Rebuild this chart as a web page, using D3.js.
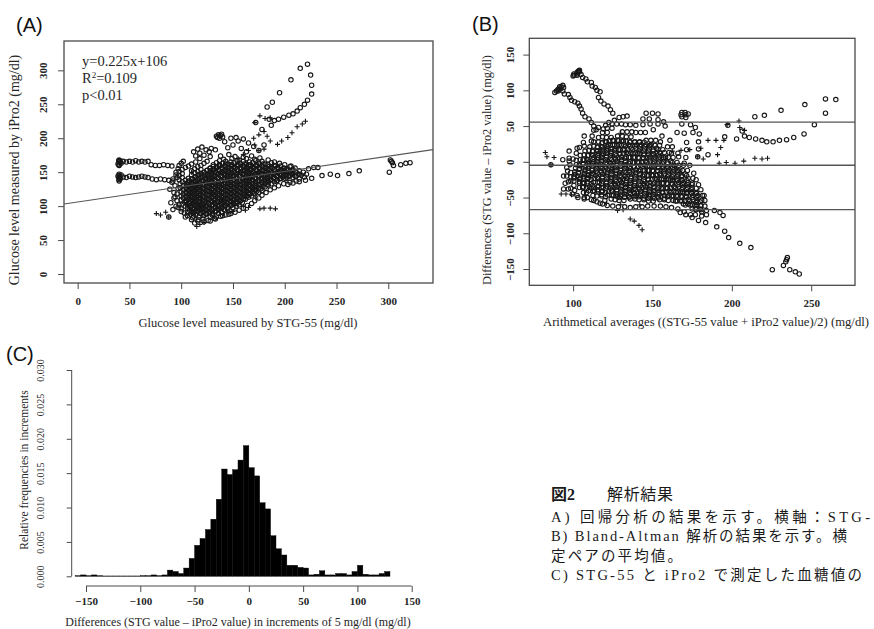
<!DOCTYPE html>
<html>
<head>
<meta charset="utf-8">
<script src="https://cdn.jsdelivr.net/npm/d3@7"></script>
<style>
  body { margin: 0; background: #fff; }
  svg { display: block; }
</style>
</head>
<body>
<svg id="fig" width="874" height="629"></svg>
<script>
// ---- data ----
// panel A pairs "STG,iPro2" ; open circles
var circleA =
  // STG=40 column and the two trails going right
  "40,168 40,166 41,164 39,162 40,160 40,165 41,167 42,163 40,167 40,161 " +
  "40,147 40,145 41,143 40,141 40,139 40,137 39,144 41,140 40,142 42,146 " +
  "44,166 47,165 50,166 53,165 56,167 59,165 62,166 65,165 68,166 71,161 75,160 79,160 83,161 87,160 91,159 " +
  "44,143 47,142 50,144 53,143 56,142 59,143 62,144 65,143 68,142 72,140 76,139 80,140 84,139 88,138 92,137 " +
  // rising trail
  "222,309 215,303 225,293 206,286 226,278 226,265 195,267 222,256 219,250 215,245 212,240 208,236 204,234 199,231 194,228 " +
  "188,253 183,246 172,223 178,213 187,219 190,226 185,228 " +
  "134,203 136,205 138,204 140,202 135,201 137,200 139,206 " +
  "116,184 120,187 124,183 129,185 112,180 118,178 127,180 133,183 150,190 155,196 160,199 165,193 170,188 175,182 " +
  "180,190 158,185 163,180 145,186 142,195 148,200 153,201 " +
  // right arm and far right group
  "232,157 236,145 244,147 251,145 262,148 272,152 203,132 208,134 214,136 220,138 226,141 223,155 228,157 " +
  "301,150 304,164 305,160 312,161 317,163 321,164 302,168 303,166 " +
  "88,84 92,95 95,100 90,105 93,112 96,118 89,125 94,130 91,135 96,142 98,160 102,166 95,150 " +
  // ragged edge of the cloud
  "93,120 97,126 92,140 95,146 97,155 100,163 114,174 122,175 128,173 138,174 146,176 152,173 160,172 168,174 176,171 " +
  "184,168 190,165 195,163 200,161 206,159 210,156 214,152 218,150 221,147 219,143 214,140 211,137 205,135 199,133 " +
  "194,130 190,127 186,124 182,120 178,116 175,112 171,108 168,104 164,101 160,97 156,94 152,91 148,89 143,87 138,85 " +
  "133,81 128,78 122,77 117,80 111,83 106,86 103,90 100,96 98,102 96,108 94,114 " +
  // dense core
  "118,170 141,169 149,170 156,168 163,170 171,169 " +
  "114,165 125,166 137,167 143,166 148,165 154,167 160,166 166,165 172,167 178,166 " +
  "110,162 122,163 134,164 140,163 145,162 151,164 157,163 163,162 169,164 175,163 181,162 187,164 " +
  "107,159 119,160 131,161 137,160 142,159 148,161 154,160 160,159 166,161 172,160 178,159 184,161 190,160 196,159 " +
  "104,157 116,158 128,156 134,158 139,157 145,156 151,158 157,157 163,156 169,158 175,157 181,156 187,158 193,157 199,156 205,158 " +
  "101,154 113,155 119,154 125,153 131,155 136,154 142,153 148,155 154,154 160,153 166,155 172,154 178,153 184,155 190,154 196,153 202,155 208,154 " +
  "98,151 110,152 116,151 122,150 128,152 133,151 139,150 145,152 151,151 157,150 163,152 169,151 175,150 181,152 187,151 193,150 199,152 205,151 211,150 " +
  "101,148 113,149 119,148 125,147 130,149 136,148 142,147 148,149 154,148 160,147 166,149 172,148 178,147 184,149 190,148 196,147 202,149 208,148 214,147 " +
  "98,145 110,146 116,145 122,144 127,146 133,145 139,144 145,146 151,145 157,144 163,146 169,145 175,144 181,146 187,145 193,144 199,146 205,145 211,144 216,146 " +
  "101,142 107,141 113,143 119,142 124,141 130,143 136,142 142,141 148,143 154,142 160,141 166,143 172,142 178,141 184,143 190,142 196,141 202,143 208,142 " +
  "98,139 104,138 110,140 116,139 121,138 127,140 133,139 139,138 145,140 151,139 157,138 163,140 169,139 175,138 181,140 187,139 193,138 199,140 " +
  "101,136 107,135 113,137 118,136 124,135 130,137 136,136 142,135 148,137 154,136 160,135 166,137 172,136 178,135 184,137 190,136 " +
  "99,133 105,132 110,134 115,133 121,132 127,134 133,133 139,132 145,134 151,133 157,132 163,134 169,133 175,132 181,134 187,133 " +
  "102,130 108,129 113,131 118,130 124,129 130,131 136,130 142,129 148,131 154,130 160,129 166,131 172,130 178,129 184,131 " +
  "99,127 105,126 110,128 115,127 121,126 127,128 133,127 139,126 145,128 151,127 157,126 163,128 169,127 175,126 181,128 " +
  "102,124 108,123 113,125 118,124 124,123 130,125 136,124 142,123 148,125 154,124 160,123 166,125 172,124 178,123 " +
  "100,121 105,120 110,122 115,121 121,120 127,122 133,121 139,120 145,122 151,121 157,120 163,122 169,121 175,120 " +
  "102,118 108,117 113,119 118,118 124,117 130,119 136,118 142,117 148,119 154,118 160,117 166,119 171,118 " +
  "100,115 105,114 110,116 115,115 121,114 127,116 133,115 139,114 145,116 151,115 157,114 163,116 168,115 " +
  "102,112 108,111 113,113 118,112 124,111 130,113 136,112 142,111 148,113 154,112 160,111 165,113 " +
  "100,109 105,108 110,110 115,109 121,108 127,110 133,109 139,108 145,110 151,109 157,108 162,110 " +
  "103,106 108,105 113,107 118,106 124,105 130,107 136,106 142,105 148,107 154,106 159,105 " +
  "101,103 106,102 111,104 116,103 121,102 127,104 133,103 139,102 145,104 151,103 156,102 " +
  "104,100 109,99 114,101 119,100 124,99 130,101 136,100 142,99 148,101 153,100 " +
  "106,97 111,96 116,98 121,97 127,96 133,98 139,97 145,96 150,98 " +
  "108,94 113,93 118,95 124,94 130,93 136,95 142,94 147,93 " +
  "106,91 111,90 116,92 121,91 127,90 133,92 139,91 " +
  "109,88 114,87 119,89 124,88 130,87 136,89 " +
  "112,85 117,84 122,86 128,85 134,84 " +
  "110,80 116,78 121,81 126,79 132,82 140,86 146,88 113,75 104,84 100,92 97,98 " +
  // the darkest part, between the rows above
  "137,161.5 143,162 149,161 155,161.5 161,162 167,161 173,161.5 179,162 " +
  "131,158.5 137,159 143,158 149,158.5 155,159 161,158 167,158.5 173,159 179,158 185,158.5 191,159 " +
  "128,155.5 134,156 140,155 146,155.5 152,156 158,155 164,155.5 170,156 176,155 182,155.5 188,156 194,155 200,155.5 " +
  "125,152.5 131,153 137,152 143,152.5 149,153 155,152 161,152.5 167,153 173,152 179,152.5 185,153 191,152 197,152.5 203,153 208,152 " +
  "122,149.5 128,150 134,149 140,149.5 146,150 152,149 158,149.5 164,150 170,149 176,149.5 182,150 188,149 194,149.5 200,150 206,149 211,149.5 " +
  "117,146.5 123,147 129,146 135,146.5 141,147 147,146 153,146.5 159,147 165,146 171,146.5 177,147 183,146 189,146.5 195,147 201,146 207,146.5 213,147 " +
  "114,143.5 120,144 126,143 132,143.5 138,144 144,143 150,143.5 156,144 162,143 168,143.5 174,144 180,143 186,143.5 192,144 198,143 204,143.5 210,144 " +
  "111,140.5 117,141 123,140 129,140.5 135,141 141,140 147,140.5 153,141 159,140 165,140.5 171,141 177,140 183,140.5 189,141 195,140 201,140.5 " +
  "108,137.5 114,138 120,137 126,137.5 132,138 138,137 144,137.5 150,138 156,137 162,137.5 168,138 174,137 180,137.5 186,138 192,137 " +
  "106,134.5 112,135 118,134 124,134.5 130,135 136,134 142,134.5 148,135 154,134 160,134.5 166,135 172,134 178,134.5 184,135 " +
  "105,131.5 111,132 117,131 123,131.5 129,132 135,131 141,131.5 147,132 153,131 159,131.5 165,132 171,131 177,131.5 183,132 " +
  "107,128.5 113,129 119,128 125,128.5 131,129 137,128 143,128.5 149,129 155,128 161,128.5 167,129 173,128 179,128.5 " +
  "105,125.5 111,126 117,125 123,125.5 129,126 135,125 141,125.5 147,126 153,125 159,125.5 165,126 171,125 177,125.5 " +
  "107,122.5 113,123 119,122 125,122.5 131,123 137,122 143,122.5 149,123 155,122 161,122.5 167,123 173,122 " +
  "105,119.5 111,120 117,119 123,119.5 129,120 135,119 141,119.5 147,120 153,119 159,119.5 165,120 170,119 " +
  "107,116.5 113,117 119,116 125,116.5 131,117 137,116 143,116.5 149,117 155,116 161,116.5 166,117 " +
  "105,113.5 111,114 117,113 123,113.5 129,114 135,113 141,113.5 147,114 153,113 159,113.5 163,114 " +
  "107,110.5 113,111 119,110 125,110.5 131,111 137,110 143,110.5 149,111 155,110 160,110.5 " +
  "105,107.5 111,108 117,107 123,107.5 129,108 135,107 141,107.5 147,108 153,107 157,107.5 " +
  "108,104.5 114,105 120,104 126,104.5 132,105 138,104 144,104.5 150,105 154,104 " +
  "107,101.5 113,102 119,101 125,101.5 131,102 137,101 143,101.5 149,102 " +
  "109,98.5 115,99 121,98 127,98.5 133,99 139,98 145,98.5 " +
  "111,95.5 117,96 123,95 129,95.5 135,96 141,95 " +
  "110,92.5 116,93 122,92 128,92.5 134,93 " +
  "112,89.5 118,90 124,89 130,89.5";

// panel A pairs "STG,iPro2" ; plus signs
var plusA =
  "76,89 80,87 88,84 85,91 115,70 118,73 122,76 " +
  "171,223 176,233 181,229 186,230 193,191 197,196 203,201 207,208 212,217 217,221 220,225 " +
  "183,203 186,196 180,184 175,182 170,200 175,205 180,210 " +
  "176,96 180,97 186,97 191,96 162,94 172,112 160,100 165,98 150,92 " +
  "170,125 168,140 175,150 155,170 160,176 165,182 171,190 120,100 130,120 140,110 110,150";

var regCoef = [0.225, 106];          // slope, intercept
var baLines = [55.5, -4.8, -67.0];   // upper limit, mean, lower limit

var histLeft = [-160, -155, -150, -145, -140, -135, -130, -125, -120, -115, -110, -105,
  -100, -95, -90, -85, -80, -75, -70, -65, -60, -55, -50, -45, -40, -35, -30, -25,
  -20, -15, -10, -5, 0, 5, 10, 15, 20, 25, 30, 35, 40, 45, 50, 55, 60, 65, 70, 75,
  80, 85, 90, 95, 100, 105, 110, 115, 120, 125];
var histFreq = [0.0001, 0.0002, 0.0001, 0.0002, 0.0001, 0.00005, 0.00005, 0.00005, 0.00005, 0.00005, 0.00005, 0.00005,
  0.0001, 0.0001, 0.0002, 0.0001, 0.0002, 0.0009, 0.0007, 0.0004, 0.0012, 0.0026, 0.0045, 0.0055, 0.0068, 0.0083, 0.0112, 0.0156,
  0.0148, 0.0155, 0.0169, 0.0190, 0.0158, 0.0146, 0.0107, 0.0098, 0.0059, 0.0040, 0.0031, 0.0016, 0.0016, 0.0013, 0.0012, 0.0002,
  0.0003, 0.0008, 0.0002, 0.0002, 0.0004, 0.0004, 0.0002, 0.0007, 0.0016, 0.0003, 0.0002, 0.0002, 0.0004, 0.0007];
var histWidth = 5;

var ticksA = [0, 50, 100, 150, 200, 250, 300];
var ticksBx = [100, 150, 200, 250];
var ticksBy = [-150, -100, -50, 0, 50, 100, 150];
var ticksCx = [-150, -100, -50, 0, 50, 100, 150];
var ticksCy = [0, 0.005, 0.010, 0.015, 0.020, 0.025, 0.030];

var annotA = ["y=0.225x+106", "R", "=0.109", "p<0.01"];

// caption, as far as it shows before the right edge of the page
var captionTitle = ["図2", "解析結果"];
var captionLines = [
  "A) 回帰分析の結果を示す。横軸：STG-",
  "B) Bland-Altman 解析の結果を示す。横",
  "定ペアの平均値。",
  "C) STG-55 と iPro2 で測定した血糖値の"
];
var captionFit = [319, 296, 131, 311];   // px each line spans in the figure

// ---- styles ----
var serif = "'Liberation Serif', 'DejaVu Serif', serif";
var sans = "'Liberation Sans', Arial, sans-serif";
var inkColor = "#262626";
var boxColor = "#4a4a4a";
var pointColor = "#161616";

var svg = d3.select("#fig");
svg.append("rect").attr("width", 874).attr("height", 629).attr("fill", "#fff");

var defs = svg.append("defs");
defs.append("filter").attr("id", "soft")
  .append("feGaussianBlur").attr("stdDeviation", 0.25);
defs.append("clipPath").attr("id", "clipA")
  .append("rect").attr("x", 64).attr("y", 41).attr("width", 369).attr("height", 242);
defs.append("clipPath").attr("id", "clipB")
  .append("rect").attr("x", 529.3).attr("y", 38.3).attr("width", 325.7).attr("height", 247);

function parsePairs(s) {
  return s.trim().split(/\s+/).map(function (p) { return p.split(",").map(Number); });
}
var ptsA = parsePairs(circleA);
var plsA = parsePairs(plusA);

var plusPath = "M-2.5,0H2.5M0,-2.5V2.5";

function styleAxis(g, size, weight) {
  g.select(".domain").remove();
  g.selectAll(".tick line").attr("stroke", boxColor).attr("stroke-width", 1);
  g.selectAll(".tick text")
    .attr("font-family", serif)
    .attr("font-size", size)
    .attr("font-weight", weight)
    .attr("fill", inkColor);
}
function rotateLeft(g, d) {
  g.selectAll(".tick text")
    .attr("transform", "rotate(-90)")
    .attr("x", 0).attr("y", -d).attr("dy", 0)
    .attr("text-anchor", "middle");
}

// ============ panel A ============
var xA = d3.scaleLinear().domain([-13.2, 343.2]).range([64, 433]);
var yA = d3.scaleLinear().domain([-13.2, 343.2]).range([283, 41]);

var gA = svg.append("g");
var ptsGA = gA.append("g").attr("clip-path", "url(#clipA)").attr("filter", "url(#soft)");
ptsGA.selectAll("circle").data(ptsA).enter().append("circle")
  .attr("cx", function (d) { return xA(d[0]); })
  .attr("cy", function (d) { return yA(d[1]); })
  .attr("r", 2.2)
  .attr("fill", "none").attr("stroke", pointColor).attr("stroke-width", 1.1);
ptsGA.selectAll("path.pl").data(plsA).enter().append("path").attr("class", "pl")
  .attr("transform", function (d) { return "translate(" + xA(d[0]) + "," + yA(d[1]) + ")"; })
  .attr("d", plusPath).attr("stroke", pointColor).attr("stroke-width", 1.1);

// regression line
var regX = xA.domain();
gA.append("line").attr("clip-path", "url(#clipA)")
  .attr("x1", xA(regX[0])).attr("y1", yA(regCoef[0] * regX[0] + regCoef[1]))
  .attr("x2", xA(regX[1])).attr("y2", yA(regCoef[0] * regX[1] + regCoef[1]))
  .attr("stroke", "#555").attr("stroke-width", 1.1);

gA.append("rect").attr("x", 64).attr("y", 41).attr("width", 369).attr("height", 242)
  .attr("fill", "none").attr("stroke", boxColor).attr("stroke-width", 1.3);

gA.append("g").attr("transform", "translate(0,283)")
  .call(d3.axisBottom(xA).tickValues(ticksA).tickSize(6).tickPadding(8))
  .call(styleAxis, 11, "bold");
gA.append("g").attr("transform", "translate(64,0)")
  .call(d3.axisLeft(yA).tickValues(ticksA).tickSize(6))
  .call(styleAxis, 11, "bold")
  .call(rotateLeft, 17);

var ann = gA.append("g").attr("font-family", serif).attr("font-size", 14.5).attr("fill", inkColor);
ann.append("text").attr("x", 82).attr("y", 66).text(annotA[0]);
var r2 = ann.append("text").attr("x", 82).attr("y", 83);
r2.append("tspan").text(annotA[1]);
r2.append("tspan").attr("dy", -5).attr("font-size", 9).text("2");
r2.append("tspan").attr("dy", 5).text(annotA[2]);
ann.append("text").attr("x", 82).attr("y", 100).text(annotA[3]);

gA.append("text").attr("x", 248).attr("y", 327).attr("text-anchor", "middle")
  .attr("font-family", serif).attr("font-size", 12.5).attr("fill", inkColor)
  .text("Glucose level measured by STG-55 (mg/dl)");
gA.append("text").attr("transform", "translate(19,170) rotate(-90)").attr("text-anchor", "middle")
  .attr("font-family", serif).attr("font-size", 14).attr("fill", inkColor)
  .text("Glucose level measured by iPro2 (mg/dl)");
svg.append("text").attr("x", 16).attr("y", 32).attr("font-family", sans).attr("font-size", 20)
  .attr("fill", "#111").text("(A)");

// ============ panel B ============
var xB = d3.scaleLinear().domain([72.4, 277.6]).range([529.3, 855]);
var yB = d3.scaleLinear().domain([-172.8, 172.8]).range([285.3, 38.3]);
function baX(d) { return xB((d[0] + d[1]) / 2); }
function baY(d) { return yB(d[1] - d[0]); }

var gB = svg.append("g");
var ptsGB = gB.append("g").attr("clip-path", "url(#clipB)").attr("filter", "url(#soft)");
ptsGB.selectAll("circle").data(ptsA).enter().append("circle")
  .attr("cx", baX).attr("cy", baY)
  .attr("r", 2.2)
  .attr("fill", "none").attr("stroke", pointColor).attr("stroke-width", 1.1);
ptsGB.selectAll("path.pl").data(plsA).enter().append("path").attr("class", "pl")
  .attr("transform", function (d) { return "translate(" + baX(d) + "," + baY(d) + ")"; })
  .attr("d", plusPath).attr("stroke", pointColor).attr("stroke-width", 1.1);

gB.selectAll("line.ba").data(baLines).enter().append("line").attr("class", "ba")
  .attr("x1", 529.3).attr("x2", 855)
  .attr("y1", function (d) { return yB(d); }).attr("y2", function (d) { return yB(d); })
  .attr("stroke", "#555").attr("stroke-width", 1.3);

gB.append("rect").attr("x", 529.3).attr("y", 38.3).attr("width", 325.7).attr("height", 247)
  .attr("fill", "none").attr("stroke", boxColor).attr("stroke-width", 1.3);

gB.append("g").attr("transform", "translate(0,285.3)")
  .call(d3.axisBottom(xB).tickValues(ticksBx).tickSize(6).tickPadding(8))
  .call(styleAxis, 11, "bold");
gB.append("g").attr("transform", "translate(529.3,0)")
  .call(d3.axisLeft(yB).tickValues(ticksBy).tickSize(6))
  .call(styleAxis, 11, "bold")
  .call(rotateLeft, 15);

gB.append("text").attr("x", 706).attr("y", 326).attr("text-anchor", "middle")
  .attr("font-family", serif).attr("font-size", 12.7).attr("fill", inkColor)
  .text("Arithmetical averages ((STG-55 value + iPro2 value)/2) (mg/dl)");
gB.append("text").attr("transform", "translate(491,170) rotate(-90)").attr("text-anchor", "middle")
  .attr("font-family", serif).attr("font-size", 12.3).attr("fill", inkColor)
  .text("Differences (STG value \u2013 iPro2 value) (mg/dl)");
svg.append("text").attr("x", 472).attr("y", 31).attr("font-family", sans).attr("font-size", 20)
  .attr("fill", "#111").text("(B)");

// ============ panel C ============
var xC = d3.scaleLinear().domain([-150, 150]).range([86, 411.7]);
var yC = d3.scaleLinear().domain([0, 0.03]).range([576.3, 370]);
var gC = svg.append("g");

gC.append("g").selectAll("rect").data(histLeft).enter().append("rect")
  .attr("x", function (d) { return xC(d); })
  .attr("width", function (d) { return xC(d + histWidth) - xC(d); })
  .attr("y", function (d, i) { return yC(histFreq[i]); })
  .attr("height", function (d, i) { return yC(0) - yC(histFreq[i]); })
  .attr("fill", "#000").attr("stroke", "#000").attr("stroke-width", 0.4);

var axCx = gC.append("g").attr("transform", "translate(0,586)")
  .call(d3.axisBottom(xC).tickValues(ticksCx).tickSize(6).tickPadding(5))
  .call(styleAxis, 11, "bold");
axCx.append("line").attr("x1", xC(ticksCx[0])).attr("x2", xC(ticksCx[ticksCx.length - 1]))
  .attr("stroke", boxColor).attr("stroke-width", 1);

var axCy = gC.append("g").attr("transform", "translate(71.7,0)")
  .call(d3.axisLeft(yC).tickValues(ticksCy).tickSize(5).tickFormat(d3.format(".3f")))
  .call(styleAxis, 10, "normal")
  .call(rotateLeft, 28);
axCy.append("line").attr("y1", yC(ticksCy[0])).attr("y2", yC(ticksCy[ticksCy.length - 1]))
  .attr("stroke", boxColor).attr("stroke-width", 1);

gC.append("text").attr("x", 238).attr("y", 626).attr("text-anchor", "middle")
  .attr("font-family", serif).attr("font-size", 12).attr("fill", inkColor)
  .text("Differences (STG value \u2013 iPro2 value) in increments of 5 mg/dl (mg/dl)");
gC.append("text").attr("transform", "translate(28,470) rotate(-90)").attr("text-anchor", "middle")
  .attr("font-family", serif).attr("font-size", 11.5).attr("fill", inkColor)
  .text("Relative frequencies in increments");
svg.append("text").attr("x", 6).attr("y", 361).attr("font-family", sans).attr("font-size", 20)
  .attr("fill", "#111").text("(C)");

// ============ caption ============
var capFont = "'Liberation Serif', 'Noto Sans CJK JP'";
var cap = svg.append("g").attr("fill", "#1a1a1a");
cap.append("text").attr("x", 551).attr("y", 500).attr("font-size", 16).attr("font-weight", "bold")
  .attr("font-family", capFont).text(captionTitle[0]);
cap.append("text").attr("x", 607).attr("y", 500).attr("font-size", 16)
  .attr("textLength", 66).attr("lengthAdjust", "spacing")
  .attr("font-family", capFont).text(captionTitle[1]);
cap.selectAll("text.cl").data(captionLines).enter().append("text").attr("class", "cl")
  .attr("x", 551)
  .attr("y", function (d, i) { return 522 + i * 19.3; })
  .attr("font-family", capFont)
  .attr("font-size", 14.5)
  .attr("textLength", function (d, i) { return captionFit[i]; })
  .attr("lengthAdjust", "spacing")
  .text(function (d) { return d; });
</script>
</body>
</html>
